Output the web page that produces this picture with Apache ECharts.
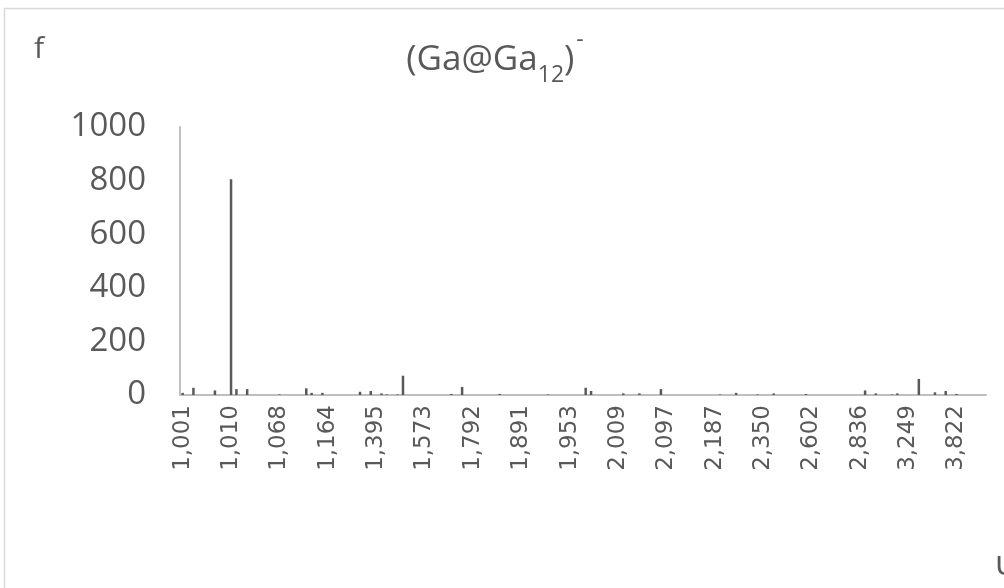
<!DOCTYPE html>
<html>
<head>
<meta charset="utf-8">
<script src="https://cdn.jsdelivr.net/npm/echarts@6/dist/echarts.min.js"></script>
<style>
html,body{margin:0;padding:0;background:#fff;}
#chart{width:1004px;height:588px;}
</style>
</head>
<body>
<div id="chart"></div>
<script>
// Category labels (x axis); only every 9th label is visible in the reference
var categories = [
 '1,001','1,002','1,003','1,004','1,005','1,006','1,007','1,008','1,009','1,010',
 '1,012','1,015','1,019','1,024','1,030','1,037','1,045','1,056','1,068',
 '1,078','1,088','1,097','1,107','1,118','1,129','1,140','1,152','1,164',
 '1,180','1,203','1,228','1,252','1,279','1,305','1,331','1,362','1,395',
 '1,412','1,432','1,451','1,473','1,492','1,513','1,531','1,552','1,573',
 '1,597','1,621','1,648','1,672','1,698','1,721','1,745','1,769','1,792',
 '1,803','1,815','1,826','1,838','1,849','1,858','1,869','1,880','1,891',
 '1,898','1,905','1,912','1,919','1,926','1,932','1,939','1,946','1,953',
 '1,959','1,965','1,971','1,977','1,983','1,990','1,996','2,002','2,009',
 '2,018','2,027','2,036','2,046','2,056','2,066','2,076','2,087','2,097',
 '2,107','2,117','2,127','2,137','2,147','2,157','2,167','2,177','2,187',
 '2,203','2,219','2,236','2,254','2,272','2,291','2,310','2,330','2,350',
 '2,376','2,404','2,431','2,460','2,487','2,516','2,544','2,573','2,602',
 '2,626','2,651','2,677','2,703','2,730','2,756','2,782','2,809','2,836',
 '2,877','2,918','2,961','3,003','3,046','3,089','3,132','3,190','3,249',
 '3,310','3,372','3,436','3,500','3,565','3,630','3,694','3,758','3,822',
 '3,890','3,962','4,035','4,110','4,188'
];

// Non-zero bars: [category index, f value]
var barIndex = [0, 2, 6, 9, 10, 12, 18, 23, 24, 26, 33, 35, 37, 38, 40, 41,
                50, 52, 59, 68, 75, 76, 82, 85, 89, 100, 103, 107, 110, 116,
                127, 129, 132, 133, 137, 140, 142, 144];
var barValue = [8, 27, 17, 805, 22, 22, 2, 25, 8, 8, 12, 15, 6, 2, 2, 72,
                4, 30, 4, 2, 27, 15, 6, 6, 22, 2, 8, 2, 6, 4,
                17, 6, 2, 6, 60, 10, 15, 4];

var yTicks = { min: 0, max: 1000, interval: 200 };

var values = categories.map(function(){ return 0; });
for (var k = 0; k < barIndex.length; k++) values[barIndex[k]] = barValue[k];

var chart = echarts.init(document.getElementById('chart'));
var textColor = '#595959';
chart.setOption({
  animation: false,
  backgroundColor: '#fff',
  graphic: [
    { type: 'rect', shape: { x: 4.5, y: 8.5, width: 1100, height: 700 },
      style: { fill: 'none', stroke: '#d9d9d9', lineWidth: 1.5 }, silent: true },
    { type: 'text', left: 34, top: 34,
      style: { text: 'f', fill: textColor, font: '30px "Open Sans"' } },
    { type: 'text', left: 995, top: 548,
      style: { text: 'υ', fill: textColor, font: '34px "Open Sans"' } }
  ],
  title: {
    text: '{a|(Ga@Ga}{b|12}{a|)}{c|-}',
    left: 490, top: 27, textAlign: 'center',
    textStyle: {
      fontWeight: 'normal',
      rich: {
        a: { fontFamily: 'Open Sans', fontWeight: 'normal', fontSize: 35, color: textColor, lineHeight: 46, verticalAlign: 'bottom' },
        b: { fontFamily: 'Open Sans', fontWeight: 'normal', fontSize: 23, color: textColor, lineHeight: 46, verticalAlign: 'bottom', padding: [0,0,-9,0] },
        c: { fontFamily: 'Open Sans', fontWeight: 'normal', fontSize: 23, color: textColor, lineHeight: 46, verticalAlign: 'top', padding: [-3,0,0,2] }
      }
    }
  },
  grid: { left: 180, right: 18, top: 127, bottom: 193, containLabel: false },
  xAxis: {
    type: 'category',
    data: categories,
    boundaryGap: true,
    axisLine: { show: true, lineStyle: { color: '#bfbfbf', width: 2 } },
    axisTick: { show: false },
    axisLabel: { interval: 8, rotate: 90, color: textColor, fontFamily: 'DejaVu Sans', fontSize: 23, margin: 10 },
    splitLine: { show: false }
  },
  yAxis: {
    type: 'value',
    min: yTicks.min, max: yTicks.max, interval: yTicks.interval,
    axisLine: { show: true, lineStyle: { color: '#bfbfbf', width: 2 } },
    axisTick: { show: false },
    axisLabel: { color: textColor, fontFamily: 'Open Sans', fontSize: 33, margin: 34,
                 formatter: function (v) { return String(v); } },
    splitLine: { show: false }
  },
  series: [{
    type: 'bar',
    data: values,
    barWidth: 2.5,
    itemStyle: { color: '#595959' }
  }]
});
</script>
</body>
</html>
